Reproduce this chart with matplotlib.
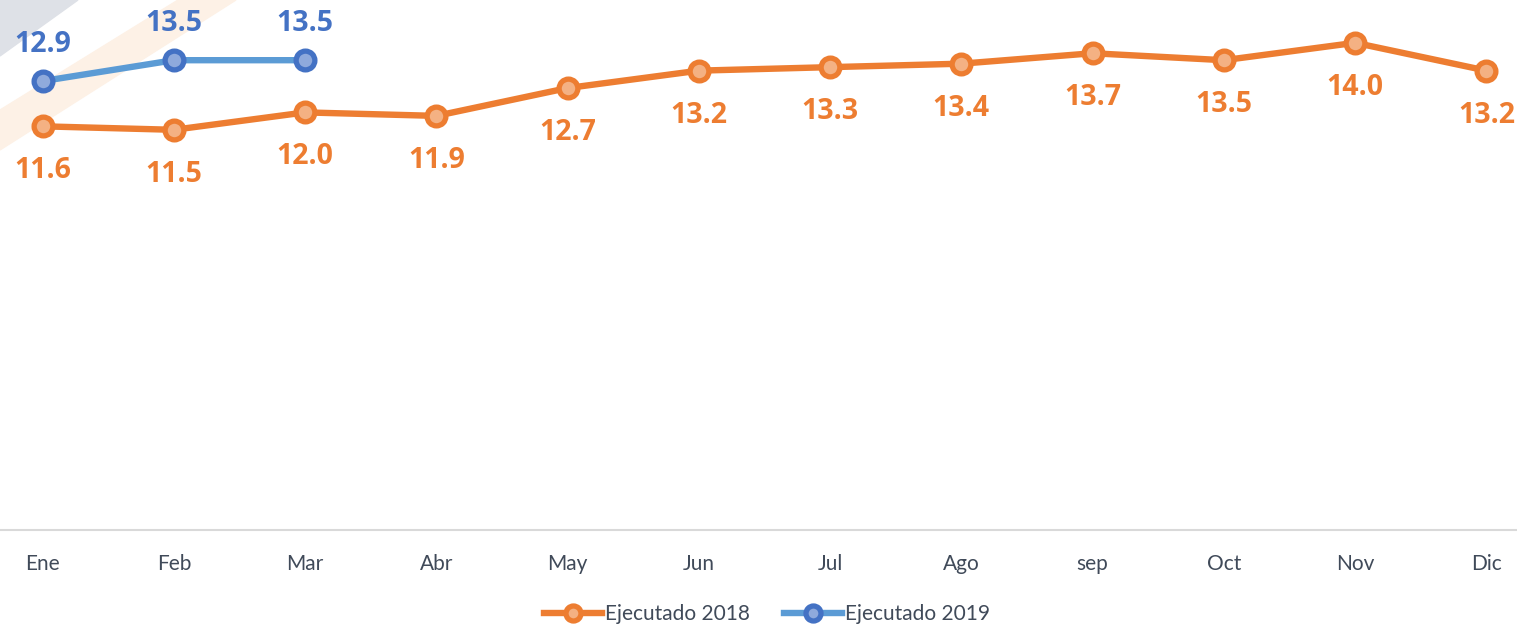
import matplotlib.pyplot as plt
from matplotlib.patches import Polygon

meses = ['Ene', 'Feb', 'Mar', 'Abr', 'May', 'Jun', 'Jul', 'Ago', 'sep', 'Oct', 'Nov', 'Dic']
ejec_2018 = [11.6, 11.5, 12.0, 11.9, 12.7, 13.2, 13.3, 13.4, 13.7, 13.5, 14.0, 13.2]
ejec_2019 = [12.9, 13.5, 13.5]

naranja = '#ED7D31'
naranja_claro = '#F4B183'
azul_linea = '#5B9BD5'
azul = '#4472C4'
azul_claro = '#8FAADC'
gris_texto = '#404A59'

plt.rcParams['font.family'] = ['Lato', 'DejaVu Sans']

W, H = 1517, 625
fig = plt.figure(figsize=(W / 100, H / 100), dpi=100)

# fondo decorativo (franjas diagonales arriba a la izquierda)
def px(pts):
    return [(x / W, 1 - y / H) for x, y in pts]

fig.patches.append(Polygon(px([(0, 0), (78, 0), (0, 56)]), closed=True,
                           transform=fig.transFigure, color='#DEE1E7', zorder=-2))
fig.patches.append(Polygon(px([(178, 0), (236, 0), (0, 150), (0, 110)]), closed=True,
                           transform=fig.transFigure, color='#FDF1E6', zorder=-2))

ax = fig.add_axes([-23 / W, (H - 530) / H, 1575 / W, 530 / H])
ax.patch.set_alpha(0)
ax.set_zorder(1)

x = list(range(len(meses)))
ax.plot(x, ejec_2018, color=naranja, lw=4.6, marker='o', ms=13.5, mew=3.8,
        mfc=naranja_claro, mec=naranja, clip_on=False, zorder=3, label='Ejecutado 2018')
ax.plot(x[:len(ejec_2019)], ejec_2019, color=azul_linea, lw=4.6, marker='o', ms=13.5, mew=3.8,
        mfc=azul_claro, mec=azul, clip_on=False, zorder=4, label='Ejecutado 2019')

for xi, v in zip(x, ejec_2018):
    ax.annotate(f'{v:.1f}', (xi, v), xytext=(0, -32), textcoords='offset points',
                ha='center', va='center', fontsize=20.5, fontweight='bold', color=naranja,
                family='Open Sans', annotation_clip=False)
for xi, v in zip(x, ejec_2019):
    ax.annotate(f'{v:.1f}', (xi, v), xytext=(0, 26.5), textcoords='offset points',
                ha='center', va='center', fontsize=20.5, fontweight='bold', color=azul,
                family='Open Sans', annotation_clip=False)

ax.set_xlim(-0.5, 11.5)
ax.set_ylim(0, 530 / 34.8)
ax.set_xticks(x)
ax.set_xticklabels(meses, fontsize=15, color=gris_texto)
ax.tick_params(axis='x', length=0, pad=17.5)
ax.set_yticks([])
for s in ['top', 'left', 'right']:
    ax.spines[s].set_visible(False)
ax.spines['bottom'].set_color('#D9D9D9')
ax.spines['bottom'].set_linewidth(1.5)

leg = fig.legend(loc='center', bbox_to_anchor=(767 / W, 1 - 614 / H), ncol=2, frameon=False,
                 fontsize=15, handlelength=2.8, handletextpad=0.15, columnspacing=1.6,
                 labelcolor=gris_texto, markerscale=0.8)

fig.savefig('out.png', dpi=100)
